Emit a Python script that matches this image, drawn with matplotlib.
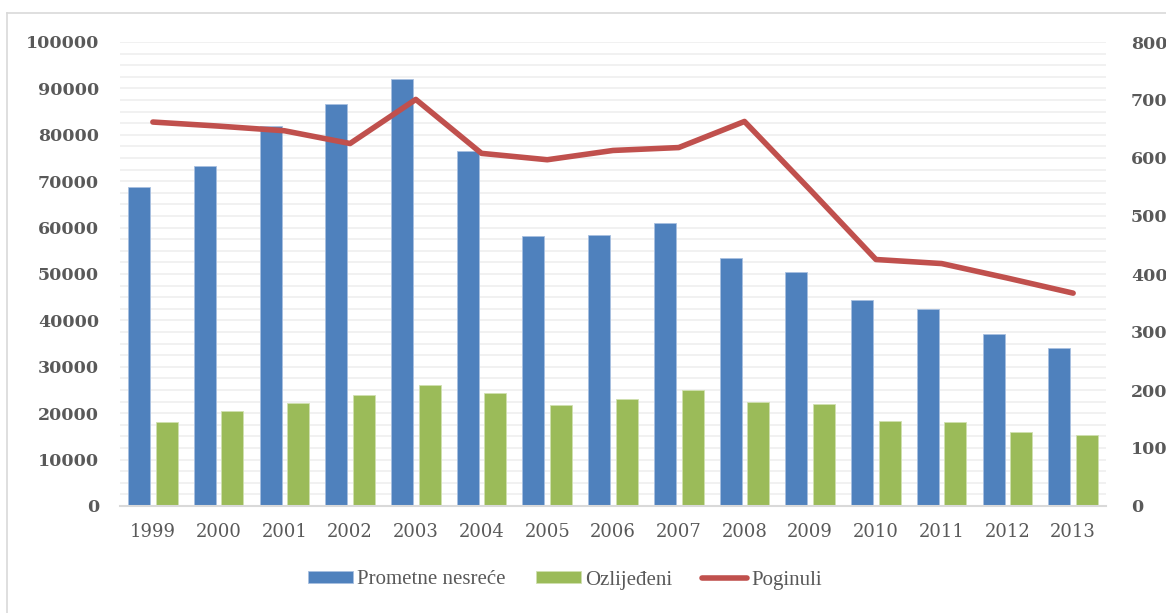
import numpy as np
import matplotlib
matplotlib.use("Agg")
import matplotlib.pyplot as plt
from matplotlib.lines import Line2D

# podaci
godine = ["1999", "2000", "2001", "2002", "2003", "2004", "2005", "2006",
          "2007", "2008", "2009", "2010", "2011", "2012", "2013"]
nesrece = [68800, 73300, 81900, 86600, 92000, 76500, 58200, 58300,
           61000, 53400, 50400, 44300, 42400, 37000, 34000]
ozlijedeni = [18100, 20500, 22100, 23900, 26100, 24300, 21700, 23100,
              25100, 22400, 22000, 18400, 18100, 16000, 15300]
poginuli = [662, 655, 647, 625, 701, 608, 597, 613, 618, 663, 545, 425, 418, 393, 367]

plt.rcParams['font.family'] = ['DejaVu Serif']
siva = "#595959"

fig = plt.figure(figsize=(11.66, 6.13), dpi=100)
ax = fig.add_axes([120/1166, 1-506/613, (1106-120)/1166, (506-42)/613])
ax2 = ax.twinx()

x = np.arange(len(godine))
w = 0.335
ax.bar(x - 0.21, nesrece, w, color="#4F81BD", edgecolor="#a8c0e0", lw=0.6,
       label="Prometne nesreće", zorder=2)
ax.bar(x + 0.21, ozlijedeni, w, color="#9BBB59", edgecolor="#d0e0b0", lw=0.6,
       label="Ozlijeđeni", zorder=2)
ax2.plot(x, poginuli, color="#C0504D", lw=4, label="Poginuli", solid_capstyle="round")

ax.set_xlim(-0.5, len(godine) - 0.5)
ax.set_ylim(0, 100000)
ax2.set_ylim(0, 800)
ax.set_yticks(np.arange(0, 100001, 10000))
ax.set_yticks(np.arange(0, 100001, 2500), minor=True)
ax2.set_yticks(np.arange(0, 801, 100))
ax.grid(axis="y", which="both", color="#efefef", lw=1.2, zorder=0)
ax.set_axisbelow(True)
ax.set_xticks(x)
ax.set_xticklabels(godine)

for a in (ax, ax2):
    for s in a.spines.values():
        s.set_visible(False)
    a.tick_params(length=0, which="both")
ax.spines["bottom"].set_visible(True)
ax.spines["bottom"].set_color("#d9d9d9")
ax.spines["bottom"].set_linewidth(1.5)

ax.tick_params(axis="x", labelsize=13, labelcolor=siva, pad=12)
ax.tick_params(axis="y", labelsize=12.5, labelcolor=siva, pad=15)
ax2.tick_params(axis="y", labelsize=12.5, labelcolor=siva, pad=18)
for t in ax.get_yticklabels() + ax2.get_yticklabels():
    t.set_fontweight("bold")

h1, l1 = ax.get_legend_handles_labels()
h2, l2 = ax2.get_legend_handles_labels()
fig.legend(h1 + h2, l1 + l2, loc="center", bbox_to_anchor=(565/1166, 1-580/613), ncol=3,
           frameon=False, labelcolor=siva, handlelength=2.16,
           prop={'family': ['Liberation Serif'], 'size': 15},
           handleheight=0.55, columnspacing=1.45, handletextpad=0.2)

# okvir grafikona (lijevo i gore)
fig.add_artist(Line2D([7/1166, 7/1166], [0, 1-13/613], transform=fig.transFigure,
                      color="#d9d9d9", lw=1.2))
fig.add_artist(Line2D([7/1166, 1], [1-13/613, 1-13/613], transform=fig.transFigure,
                      color="#d9d9d9", lw=1.2))

fig.savefig("out.png", dpi=100)
